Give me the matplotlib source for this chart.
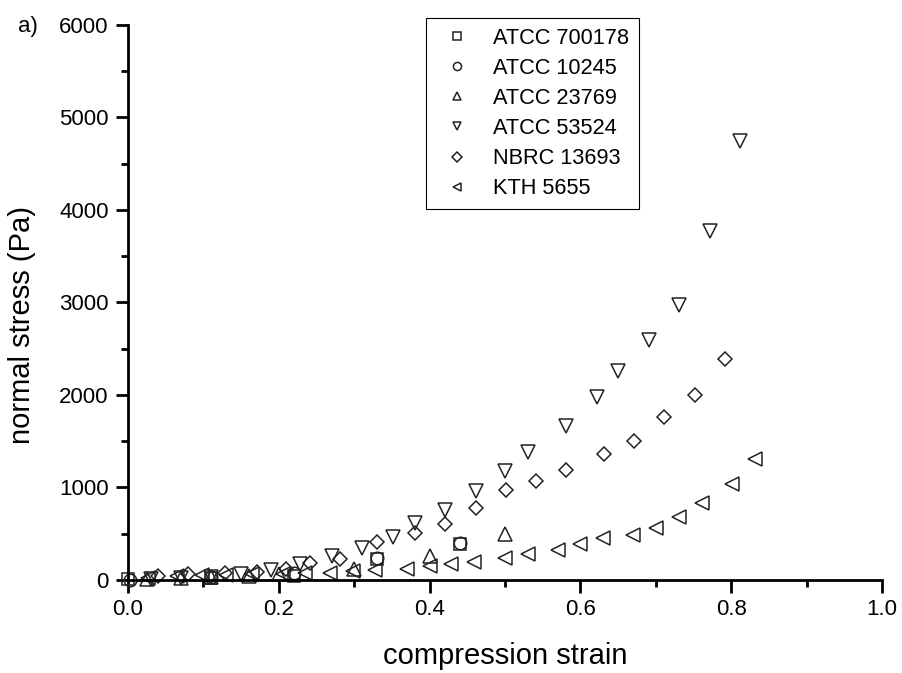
import numpy as np
import matplotlib
matplotlib.use('Agg')
from matplotlib import pyplot as plt

plt.rcParams['font.family'] = ['Liberation Sans', 'DejaVu Sans']

# data
labels = ['ATCC 700178', 'ATCC 10245', 'ATCC 23769', 'ATCC 53524', 'NBRC 13693', 'KTH 5655']
markers = ['s', 'o', '^', 'v', 'D', '<']

x_700178 = [0.0, 0.11, 0.22, 0.33, 0.44]
y_700178 = [15, 25, 45, 230, 390]

x_10245 = [0.003, 0.11, 0.22, 0.33, 0.44]
y_10245 = [5, 30, 80, 242, 398]

x_23769 = [0.025, 0.07, 0.11, 0.16, 0.20, 0.30, 0.40, 0.50]
y_23769 = [15, 25, 35, 45, 60, 115, 262, 495]

x_53524 = [0.03, 0.07, 0.11, 0.15, 0.19, 0.228, 0.27, 0.31, 0.351, 0.381, 0.421,
           0.461, 0.50, 0.531, 0.581, 0.622, 0.65, 0.691, 0.731, 0.772, 0.812]
y_53524 = [10, 20, 35, 60, 105, 170, 260, 350, 466, 621, 756,
           965, 1174, 1387, 1668, 1983, 2257, 2589, 2969, 3774, 4749]

x_13693 = [0.04, 0.08, 0.129, 0.171, 0.21, 0.241, 0.281, 0.33, 0.381, 0.421,
           0.461, 0.501, 0.541, 0.581, 0.631, 0.671, 0.711, 0.752, 0.792]
y_13693 = [45, 60, 80, 90, 115, 187, 224, 415, 512, 603,
           777, 978, 1073, 1189, 1362, 1506, 1766, 2001, 2391]

x_5655 = [0.027, 0.065, 0.098, 0.13, 0.165, 0.206, 0.235, 0.268, 0.299, 0.328,
          0.37, 0.40, 0.429, 0.459, 0.50, 0.53, 0.57, 0.599, 0.63, 0.67,
          0.70, 0.731, 0.761, 0.801, 0.831]
y_5655 = [20, 40, 50, 55, 60, 70, 80, 79, 98, 108,
          116, 152, 170, 198, 235, 285, 328, 387, 452, 488,
          567, 683, 827, 1037, 1308]

xs = [x_700178, x_10245, x_23769, x_53524, x_13693, x_5655]
ys = [y_700178, y_10245, y_23769, y_53524, y_13693, y_5655]
sizes = [8, 9, 9.5, 9.5, 7.5, 9.5]

fig = plt.figure(figsize=(9.03, 6.73), dpi=100)
ax = fig.add_axes([0.1418, 0.1382, 0.8349, 0.8247])

for x, y, m, ms, lab in zip(xs, ys, markers, sizes, labels):
    ax.plot(x, y, linestyle='none', marker=m, ms=ms, mfc='none',
            mec='#222222', mew=1.1, label=lab, clip_on=False)

ax.set_xlim(0, 1.0)
ax.set_ylim(0, 6000)
ax.set_xticks(np.arange(0, 1.01, 0.2))
ax.set_xticks(np.arange(0, 1.01, 0.1), minor=True)
ax.set_yticks(np.arange(0, 6001, 1000))
ax.set_yticks(np.arange(0, 6001, 500), minor=True)
ax.set_xticklabels(['0.0', '0.2', '0.4', '0.6', '0.8', '1.0'])

ax.spines['top'].set_visible(False)
ax.spines['right'].set_visible(False)
ax.spines['left'].set_linewidth(2.0)
ax.spines['bottom'].set_linewidth(2.0)
ax.tick_params(which='major', direction='out', length=9, width=2.0, labelsize=16, pad=5)
ax.tick_params(which='minor', direction='out', length=5, width=2.0)

ax.set_xlabel('compression strain', fontsize=21)
ax.set_ylabel('normal stress (Pa)', fontsize=21)
ax.xaxis.set_label_coords(0.5, -0.112)
ax.yaxis.set_label_coords(-0.122, 0.46)

leg = ax.legend(loc='upper left', bbox_to_anchor=(0.395, 1.013), borderaxespad=0,
                fontsize=15.7, markerscale=0.65, handlelength=2.0, handletextpad=0.65,
                labelspacing=0.42, borderpad=0.45, fancybox=False,
                edgecolor='black', framealpha=1)
leg.get_frame().set_linewidth(0.8)

fig.text(0.02, 0.952, 'a)', fontsize=16)

fig.savefig('out.png', dpi=100)
